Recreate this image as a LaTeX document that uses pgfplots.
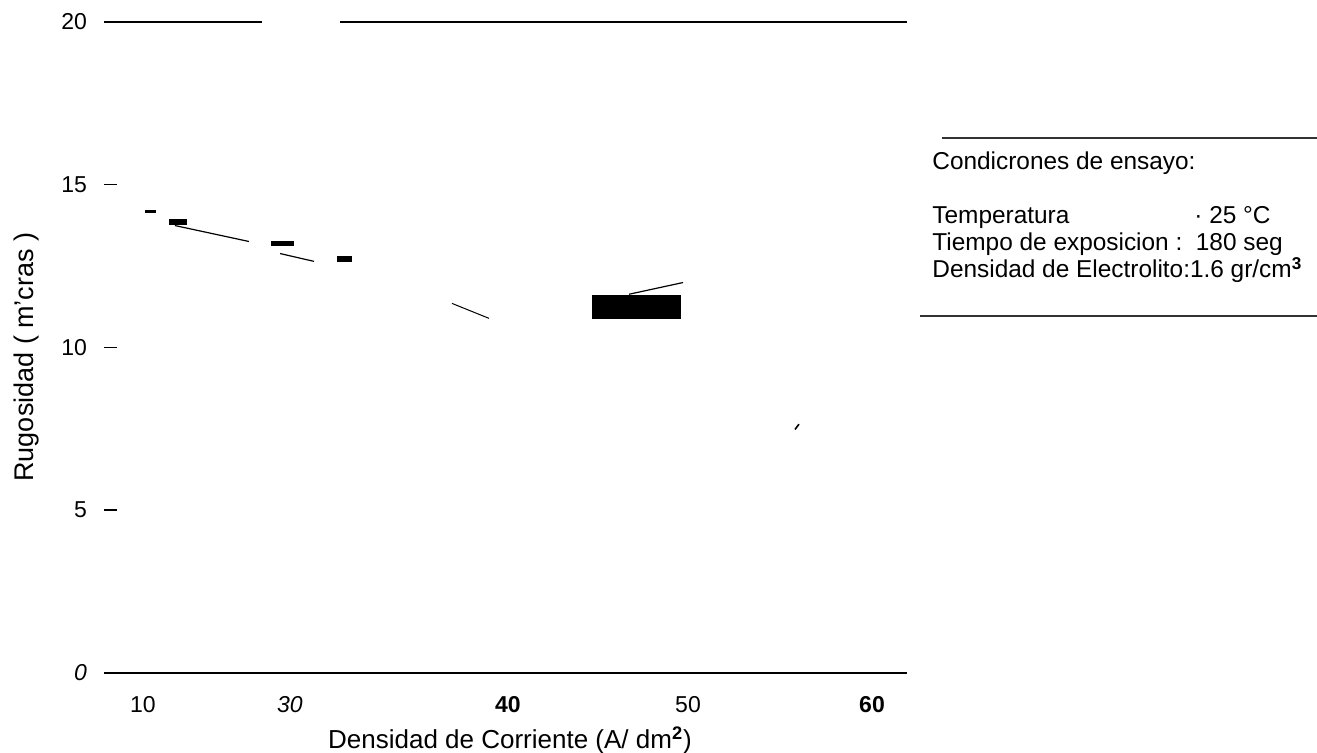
\documentclass[border=0pt]{standalone}
\usepackage{fontspec}
\setmainfont{Liberation Sans}
\usepackage{pgfplots}
\pgfplotsset{compat=1.18}
\begin{document}
\begin{tikzpicture}[x=0.5pt,y=0.5pt]
\useasboundingbox (-104,-80) rectangle (1213,673);
\begin{axis}[
  at={(0,0)}, anchor=south west,
  scale only axis, width=401.5pt, height=325.65pt,
  xmin=7.325, xmax=62.40, ymin=0, ymax=20,
  clip=false,
  axis line style={draw=none},
  tick pos=left,
  xtick={10,20.08,35.03,47.38,60},
  xticklabels={10,\textit{30},\textbf{40},50,\textbf{60}},
  xtick style={draw=none},
  xticklabel style={font=\fontsize{11.5}{12}\selectfont, yshift=-8pt},
  ytick={0,5,10,15,20},
  yticklabels={\textit{0},5,10,15,20},
  ytick style={black, line width=0.8pt},
  tick align=inside,
  major tick length=6.5pt,
  yticklabel style={font=\fontsize{11.5}{12}\selectfont, xshift=-5pt},
]
% frame lines
\addplot[black, line width=1pt] coordinates {(7.325,0) (62.40,0)};
\addplot[black, line width=1pt] coordinates {(7.325,20) (18.16,20)};
\addplot[black, line width=1pt] coordinates {(23.51,20) (62.40,20)};
% markers (filled rectangles)
\addplot[fill=black, draw=none] coordinates {(10.14,14.14) (10.89,14.14) (10.89,14.23) (10.14,14.23)} -- cycle;
\addplot[fill=black, draw=none] coordinates {(11.78,13.77) (13.02,13.77) (13.02,13.93) (11.78,13.93)} -- cycle;
\addplot[fill=black, draw=none] coordinates {(18.78,13.10) (20.36,13.10) (20.36,13.28) (18.78,13.28)} -- cycle;
\addplot[fill=black, draw=none] coordinates {(23.31,12.61) (24.33,12.61) (24.33,12.79) (23.31,12.79)} -- cycle;
\addplot[fill=black, draw=none] coordinates {(40.80,10.86) (46.90,10.86) (46.90,11.60) (40.80,11.60)} -- cycle;
% line segments
\addplot[black, line width=0.6pt] coordinates {(12.19,13.74) (17.27,13.25)};
\addplot[black, line width=0.6pt] coordinates {(19.40,12.88) (21.73,12.64)};
\addplot[black, line width=0.5pt] coordinates {(31.19,11.35) (33.73,10.89)};
\addplot[black, line width=0.6pt] coordinates {(43.33,11.63) (47.04,11.99)};
\addplot[black, line width=0.8pt] coordinates {(54.72,7.48) (54.99,7.64)};
\end{axis}
% axis titles
\node[font=\fontsize{13}{14}\selectfont] at (406,-67) {Densidad de Corriente (A/ dm$^{\mathbf{2}}$)};
\node[font=\fontsize{13.5}{14}\selectfont, rotate=90] at (-77,316) {Rugosidad ( m'cras )};
% conditions box
\draw[line width=1pt, black!80] (838,535) -- (1213,535);
\draw[line width=1pt, black!80] (816,357) -- (1213,357);
\begin{scope}[font=\fontsize{12.2}{13}\selectfont, every node/.style={anchor=base west, inner sep=0}]
\node at (828,503) {Condicrones de ensayo:};
\node at (828,449) {Temperatura};
\node at (1090,449) {·\ 25 °C};
\node at (828,422) {Tiempo de exposicion :\ \ 180 seg};
\node at (828,395) {Densidad de Electrolito:1.6 gr/cm$^{\mathbf{3}}$};
\end{scope}
\end{tikzpicture}
\end{document}
